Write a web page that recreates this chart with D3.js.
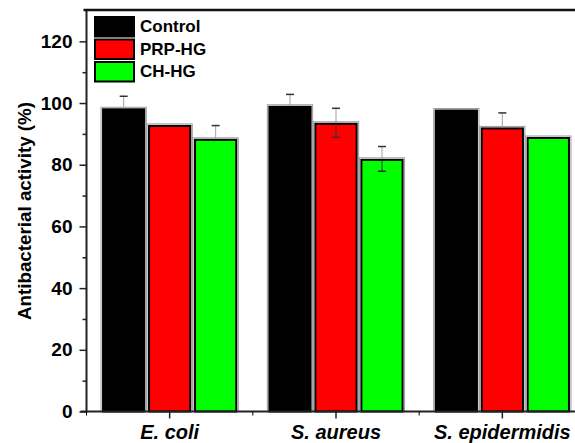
<!DOCTYPE html>
<html>
<head>
<meta charset="utf-8">
<script src="https://cdn.jsdelivr.net/npm/d3@7"></script>
<style>
  html, body { margin: 0; padding: 0; background: #fff; overflow: hidden; }
  svg { display: block; font-family: Arial, "Liberation Sans", sans-serif; }
</style>
</head>
<body>
<svg id="chart" width="575" height="443"></svg>
<script>
// Antibacterial activity of the hydrogels against three strains
const categories = ["E. coli", "S. aureus", "S. epidermidis"];
const seriesNames = ["Control", "PRP-HG", "CH-HG"];
const seriesColors = ["#000000", "#ff0000", "#00ff00"];
const controlValues = [98.3, 99.1, 97.9];
const prpValues = [92.9, 93.6, 92.1];
const chValues = [88.4, 81.9, 89.0];
// upper and lower error arms (SD) shown for each bar
const controlErrUp = [3.9, 3.7, 0];
const prpErrUp = [0, 4.7, 4.7];
const chErrUp = [4.3, 4.0, 0];
const controlErrDown = [0, 0, 0];
const prpErrDown = [0, 4.7, 0];
const chErrDown = [0, 4.0, 0];
const yTicks = [0, 20, 40, 60, 80, 100, 120];
const yMinorTicks = [10, 30, 50, 70, 90, 110];

const values = [controlValues, prpValues, chValues];
const errUp = [controlErrUp, prpErrUp, chErrUp];
const errDown = [controlErrDown, prpErrDown, chErrDown];

const svg = d3.select("#chart");
const plotLeft = 86.5, plotTop = 10.5, plotBottom = 411.5, plotRight = 585.5;

const x0 = d3.scaleBand().domain(categories).range([plotLeft, plotRight])
  .paddingInner(0.187).paddingOuter(0.0935);
const x1 = d3.scaleBand().domain(seriesNames).range([0, x0.bandwidth()]).paddingInner(0.06);
const y = d3.scaleLinear().domain([0, 130]).range([plotBottom, plotTop]);

// Bars
const groups = svg.append("g").selectAll("g")
  .data(categories)
  .join("g")
  .attr("transform", d => `translate(${x0(d)},0)`);

const bars = groups.selectAll("g.bar")
  .data((c, ci) => seriesNames.map((s, si) => ({
    s, si, v: values[si][ci], up: errUp[si][ci], down: errDown[si][ci]
  })))
  .join("g").attr("class", "bar");

bars.append("rect")
  .attr("x", d => x1(d.s) - 1)
  .attr("y", d => y(d.v) - 1)
  .attr("width", x1.bandwidth() + 2)
  .attr("height", d => plotBottom - y(d.v) + 1)
  .attr("fill", "none")
  .attr("stroke", "#9a9a9a")
  .attr("stroke-width", 1);

bars.append("rect")
  .attr("x", d => x1(d.s) + 1)
  .attr("y", d => y(d.v) + 1)
  .attr("width", x1.bandwidth() - 2)
  .attr("height", d => plotBottom - y(d.v) - 1)
  .attr("fill", d => seriesColors[d.si])
  .attr("stroke", "#000")
  .attr("stroke-width", 2);

// Error bars
const cx = d => x1(d.s) + x1.bandwidth() / 2;
const withUp = bars.filter(d => d.up > 0);
const withDown = bars.filter(d => d.down > 0);
withUp.append("line")
  .attr("x1", cx).attr("x2", cx)
  .attr("y1", d => y(d.v + d.up)).attr("y2", d => y(d.v))
  .attr("stroke", "#a0a0a0").attr("stroke-width", 1);
withUp.append("line")
  .attr("x1", d => cx(d) - 4).attr("x2", d => cx(d) + 4)
  .attr("y1", d => y(d.v + d.up)).attr("y2", d => y(d.v + d.up))
  .attr("stroke", "#333").attr("stroke-width", 1.5);
withDown.append("line")
  .attr("x1", cx).attr("x2", cx)
  .attr("y1", d => y(d.v)).attr("y2", d => y(d.v - d.down))
  .attr("stroke", "#333").attr("stroke-width", 1);
withDown.append("line")
  .attr("x1", d => cx(d) - 4).attr("x2", d => cx(d) + 4)
  .attr("y1", d => y(d.v - d.down)).attr("y2", d => y(d.v - d.down))
  .attr("stroke", "#333").attr("stroke-width", 1.5);

// Y axis
const yAxis = svg.append("g").attr("transform", `translate(${plotLeft},0)`)
  .call(d3.axisLeft(y).tickValues(yTicks).tickSize(7).tickPadding(7));
svg.append("g").attr("transform", `translate(${plotLeft},0)`)
  .call(d3.axisLeft(y).tickValues(yMinorTicks).tickSize(4).tickFormat(""))
  .select(".domain").remove();
yAxis.select(".domain").attr("d", `M0,${plotTop - 1}V${plotBottom + 1}`);
yAxis.selectAll("text").attr("font-size", 19).attr("font-weight", "bold").attr("fill", "#000");

// X axis
const xAxis = svg.append("g").attr("transform", `translate(0,${plotBottom})`)
  .call(d3.axisBottom(x0).tickSize(7).tickPadding(6));
const groupEdges = categories.map(c => x0(c) - x0.step() * x0.paddingInner() / 2)
  .concat([plotRight]);
xAxis.selectAll("line.minor").data(groupEdges).join("line").attr("class", "minor")
  .attr("x1", d => d).attr("x2", d => d).attr("y1", 0).attr("y2", 4)
  .attr("stroke", "#000");
xAxis.select(".domain").attr("d", `M${plotLeft - 6},0H${plotRight}`);
xAxis.selectAll("text").attr("font-size", 20).attr("font-weight", "bold")
  .attr("font-style", "italic").attr("fill", "#000");

svg.selectAll(".domain").attr("stroke", "#222").attr("stroke-width", 2);
svg.selectAll(".tick line").attr("stroke", "#222").attr("stroke-width", 1.5);

// Top frame line
svg.append("line")
  .attr("x1", plotLeft - 3).attr("x2", plotRight)
  .attr("y1", plotTop - 0.5).attr("y2", plotTop - 0.5)
  .attr("stroke", "#111").attr("stroke-width", 2.5);

// Y axis title
svg.append("text")
  .attr("transform", "translate(30.5,211) rotate(-90)")
  .attr("text-anchor", "middle")
  .attr("font-size", 18.8).attr("font-weight", "bold")
  .text("Antibacterial activity (%)");

// Legend
const legend = svg.append("g").attr("transform", "translate(94,16)");
const rows = legend.selectAll("g").data(seriesNames).join("g")
  .attr("transform", (d, i) => `translate(0,${i * 22.5})`);
rows.append("rect")
  .attr("x", 1).attr("y", 1).attr("width", 39).attr("height", 19.5)
  .attr("fill", (d, i) => seriesColors[i])
  .attr("stroke", "#000").attr("stroke-width", 2);
rows.append("text")
  .attr("x", 46).attr("y", 16)
  .attr("font-size", 17).attr("font-weight", "bold")
  .text(d => d);
</script>
</body>
</html>
